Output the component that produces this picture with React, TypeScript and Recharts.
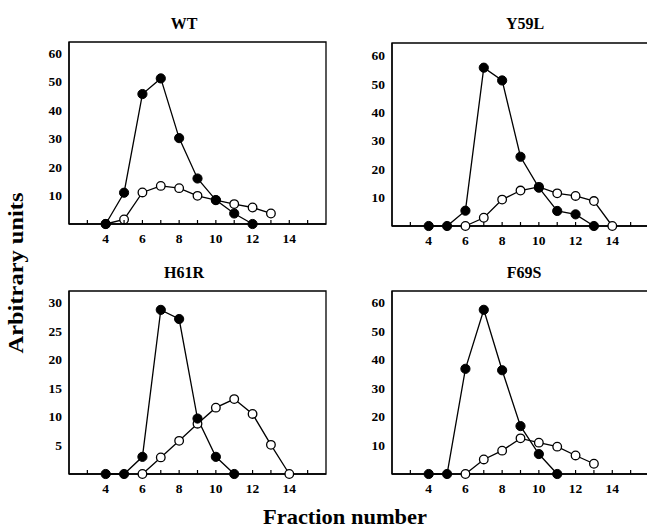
import { LineChart, Line, XAxis, YAxis, ReferenceArea } from "recharts";

const fractions = [4, 5, 6, 7, 8, 9, 10, 11, 12, 13, 14];

const wtFilled = [0, 11, 45.7, 51.2, 30.2, 16, 8.4, 3.7, 0, null, null];
const wtOpen = [0, 1.6, 11.1, 13.4, 12.6, 9.9, 8.4, 7, 5.8, 3.7, null];

const y59lFilled = [0, 0, 5.4, 55.8, 51.3, 24.4, 13.5, 5.3, 4.1, 0, null];
const y59lOpen = [null, null, 0, 2.9, 9.3, 12.5, 13.8, 11.5, 10.6, 8.8, 0];

const h61rFilled = [0, 0, 3.0, 28.7, 27.1, 9.7, 3.0, 0, null, null, null];
const h61rOpen = [null, null, 0, 2.9, 5.8, 8.8, 11.6, 13.1, 10.5, 5.1, 0];

const f69sFilled = [0, 0, 36.9, 57.6, 36.4, 16.8, 7.0, 0, null, null, null];
const f69sOpen = [null, null, 0, 5.1, 8.2, 12.5, 11.0, 9.6, 6.5, 3.6, null];

const xTicks = [3, 4, 5, 6, 7, 8, 9, 10, 11, 12, 13, 14, 15];
const xLabels = [4, 6, 8, 10, 12, 14];
const yTicksBig = [10, 20, 30, 40, 50, 60];
const yTicksSmall = [5, 10, 15, 20, 25, 30];

const FONT = "'Liberation Serif', 'Times New Roman', serif";

const XTick = (props: any) => {
  const { x, y, payload, covered } = props;
  const v = payload.value;
  // skip the inner tick mark where a marker sits on the baseline
  const hide = covered && covered.includes(v);
  return (
    <g>
      {hide ? null : (
        <line x1={x} x2={x} y1={y} y2={y - 4} stroke="#000" strokeWidth={1.2} />
      )}
      {xLabels.includes(v) ? (
        <text
          x={x}
          y={y + 18.5}
          textAnchor="middle"
          fontFamily={FONT}
          fontWeight="bold"
          fontSize={13.5}
          fill="#000"
        >
          {v}
        </text>
      ) : null}
    </g>
  );
};

const YTick = (props: any) => {
  const { x, y, payload } = props;
  return (
    <text
      x={x - 7}
      y={y + 4.5}
      textAnchor="end"
      fontFamily={FONT}
      fontWeight="bold"
      fontSize={13.5}
      fill="#000"
    >
      {payload.value}
    </text>
  );
};

const OpenDot = (props: any) => {
  const { cx, cy, value } = props;
  if (value == null || cx == null || cy == null) return null;
  return <circle key={`o${cx}`} cx={cx} cy={cy} r={4.3} fill="#fff" stroke="#000" strokeWidth={1.3} />;
};

const FilledDot = (props: any) => {
  const { cx, cy, value } = props;
  if (value == null || cx == null || cy == null) return null;
  return <circle key={`f${cx}`} cx={cx} cy={cy} r={4.6} fill="#000" stroke="#000" strokeWidth={1} />;
};

interface PanelProps {
  left: number;
  top: number;
  plotH: number;
  yMax: number;
  yTicks: number[];
  filled: (number | null)[];
  open: (number | null)[];
}

const PLOT_W = 257;

function Panel({ left, top, plotH, yMax, yTicks, filled, open }: PanelProps) {
  const data = fractions.map((x, i) => ({ x, filled: filled[i], open: open[i] }));
  const covered = data.filter((d) => d.filled === 0 || d.open === 0).map((d) => d.x);
  return (
    <div style={{ position: "absolute", left: left - 40, top: top - 40 }}>
      <LineChart
        width={40 + PLOT_W + 20}
        height={40 + plotH + 30}
        data={data}
        margin={{ top: 40, right: 20, left: 10, bottom: 0 }}
      >
        <XAxis
          dataKey="x"
          type="number"
          domain={[2, 16]}
          ticks={xTicks}
          interval={0}
          height={30}
          tickSize={0}
          tickMargin={0}
          tickLine={false}
          axisLine={{ stroke: "#000", strokeWidth: 1.3 }}
          tick={<XTick covered={covered} />}
        />
        <YAxis
          type="number"
          domain={[0, yMax]}
          ticks={yTicks}
          interval={0}
          width={30}
          tickSize={0}
          tickMargin={0}
          tickLine={false}
          axisLine={{ stroke: "#000", strokeWidth: 1.3 }}
          tick={<YTick />}
        />
        <ReferenceArea
          x1={2}
          x2={16}
          y1={0}
          y2={yMax}
          fill="none"
          fillOpacity={0}
          stroke="#000"
          strokeWidth={1.3}
        />
        <Line
          dataKey="open"
          stroke="#000"
          strokeWidth={1.3}
          dot={<OpenDot />}
          isAnimationActive={false}
          type="linear"
        />
        <Line
          dataKey="filled"
          stroke="#000"
          strokeWidth={1.3}
          dot={<FilledDot />}
          isAnimationActive={false}
          type="linear"
        />
      </LineChart>
    </div>
  );
}

export default function App() {
  const titleStyle = {
    fontFamily: FONT,
    fontWeight: "bold" as const,
    fontSize: 16,
  };
  return (
    <div
      style={{
        position: "absolute",
        left: 0,
        top: 0,
        width: 647,
        height: 529,
        overflow: "hidden",
        background: "#fff",
      }}
    >
      <Panel left={69} top={42} plotH={182} yMax={64} yTicks={yTicksBig} filled={wtFilled} open={wtOpen} />
      <Panel left={392} top={43} plotH={183} yMax={64.5} yTicks={yTicksBig} filled={y59lFilled} open={y59lOpen} />
      <Panel left={69} top={291} plotH={183} yMax={32} yTicks={yTicksSmall} filled={h61rFilled} open={h61rOpen} />
      <Panel left={392} top={291} plotH={183} yMax={64.2} yTicks={yTicksBig} filled={f69sFilled} open={f69sOpen} />
      <svg
        width={647}
        height={529}
        style={{ position: "absolute", left: 0, top: 0, pointerEvents: "none" }}
      >
        <text x={184} y={29} textAnchor="middle" {...titleStyle}>WT</text>
        <text x={525} y={29} textAnchor="middle" {...titleStyle}>Y59L</text>
        <text x={184} y={278} textAnchor="middle" {...titleStyle}>H61R</text>
        <text x={524} y={278} textAnchor="middle" {...titleStyle}>F69S</text>
        <text
          x={0}
          y={0}
          transform="translate(23 273) rotate(-90)"
          textAnchor="middle"
          fontFamily={FONT}
          fontWeight="bold"
          fontSize={22}
          textLength={161}
          lengthAdjust="spacingAndGlyphs"
        >
          Arbitrary units
        </text>
        <text
          x={345}
          y={524}
          textAnchor="middle"
          fontFamily={FONT}
          fontWeight="bold"
          fontSize={22}
          textLength={164}
          lengthAdjust="spacingAndGlyphs"
        >
          Fraction number
        </text>
      </svg>
    </div>
  );
}
